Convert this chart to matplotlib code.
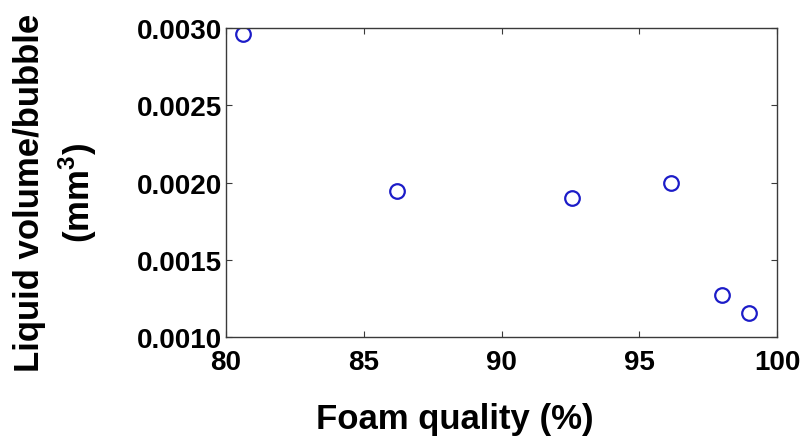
import numpy as np
import matplotlib
matplotlib.use('Agg')
import matplotlib.pyplot as plt

plt.rcParams['font.family'] = ['Liberation Sans', 'DejaVu Sans']
plt.rcParams['mathtext.fontset'] = 'custom'
plt.rcParams['mathtext.rm'] = 'Liberation Sans:bold'
plt.rcParams['mathtext.bf'] = 'Liberation Sans:bold'

# Data
foam_quality = [80.6, 86.2, 92.55, 96.15, 98.0, 98.97]          # %
liquid_per_bubble = [0.00296, 0.001945, 0.001902, 0.001999, 0.001274, 0.001155]  # mm^3

x_ticks = [80, 85, 90, 95, 100]
y_ticks = [0.0010, 0.0015, 0.0020, 0.0025, 0.0030]
y_ticklabels = ['0.0010', '0.0015', '0.0020', '0.0025', '0.0030']

fig = plt.figure(figsize=(8.05, 4.39), dpi=100)
ax = fig.add_axes([226 / 805, 1 - 338 / 439, 551 / 805, 309 / 439])

ax.plot(foam_quality, liquid_per_bubble, 'o', linestyle='none',
        markersize=10.5, markerfacecolor='none', markeredgecolor='#1c1cc8',
        markeredgewidth=1.6)

ax.set_xlim(80, 100)
ax.set_ylim(0.0010, 0.0030)
ax.set_xticks(x_ticks)
ax.set_yticks(y_ticks)
ax.set_yticklabels(y_ticklabels)

for s in ax.spines.values():
    s.set_color('#3a3a3a')
    s.set_linewidth(1.0)

ax.tick_params(direction='in', length=4, width=0.8, color='#3a3a3a',
               top=True, right=True, labelsize=20)
ax.tick_params(axis='x', pad=9)
ax.tick_params(axis='y', pad=3)
for lab in ax.get_xticklabels() + ax.get_yticklabels():
    lab.set_fontweight('bold')

ax.set_xlabel('Foam quality (%)', fontsize=25, fontweight='bold',
              va='center', ha='center')
ax.xaxis.set_label_coords((455 - 226) / 551, (338 - 420) / 309)

ax.set_ylabel('Liquid volume/bubble\n(mm$^{3}$)', fontsize=25, fontweight='bold',
              va='center', ha='center', linespacing=1.35)
ax.yaxis.set_label_coords((56 - 226) / 551, (338 - 193) / 309)

fig.savefig('out.png', dpi=100)
